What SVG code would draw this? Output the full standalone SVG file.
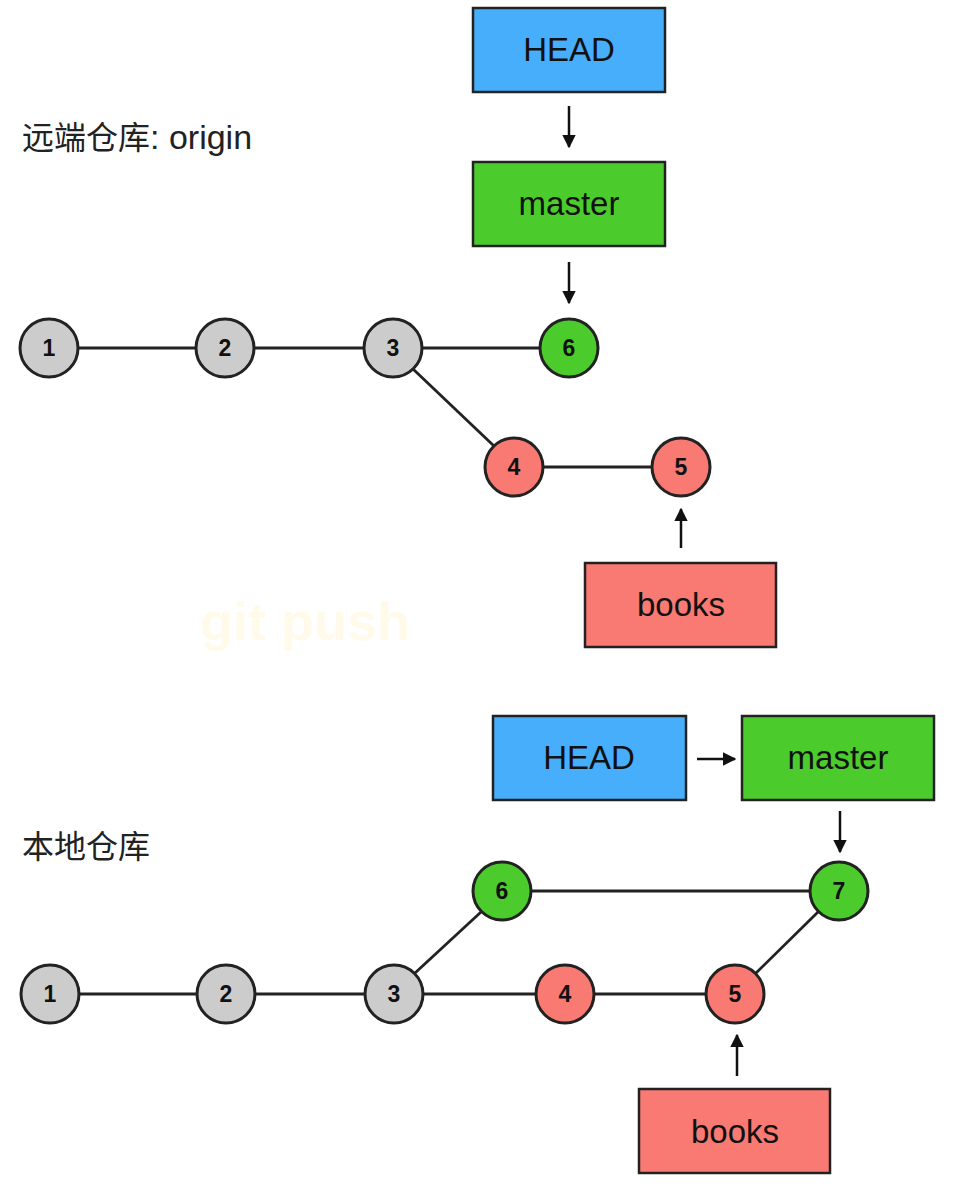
<svg xmlns="http://www.w3.org/2000/svg" width="956" height="1184" viewBox="0 0 956 1184">
<defs>
<marker id="ah" viewBox="0 0 10 10" refX="9" refY="5" markerWidth="5.5" markerHeight="5.5" markerUnits="strokeWidth" orient="auto">
<path d="M0,0 L10,5 L0,10 z" fill="#111"/>
</marker>
</defs>
<style>
.box{stroke:#222;stroke-width:2.5}
.blue{fill:#47aefc}
.green{fill:#4ccc2c}
.red{fill:#f87a72}
.gray{fill:#cccccc}
.lbl{font-family:"Liberation Sans",Arial,sans-serif;font-size:33px;fill:#111;text-anchor:middle}
.num{font-family:"Liberation Sans",Arial,sans-serif;font-size:23px;font-weight:bold;fill:#111;text-anchor:middle}
.c{stroke:#222;stroke-width:3}
.edge{stroke:#222;stroke-width:2.8;fill:none}
.arr{stroke:#111;stroke-width:2.5;fill:none;marker-end:url(#ah)}
.title{font-family:"Liberation Sans","Noto Sans CJK SC",sans-serif;font-size:32px;fill:#222}
</style>
<rect width="956" height="1184" fill="#fff"/>
<text class="title" x="22" y="149">远端仓库<tspan font-size="34">: origin</tspan></text>
<text class="title" x="22" y="858">本地仓库</text>
<text x="200" y="640" font-family="Liberation Sans,Arial,sans-serif" font-size="54" font-weight="bold" fill="#fffaea">git push</text>
<g id="connectors">
<line class="arr" x1="569" y1="106" x2="569" y2="147"/>
<line class="arr" x1="569" y1="262" x2="569" y2="303"/>
<line class="edge" x1="78" y1="348" x2="196" y2="348"/>
<line class="edge" x1="254" y1="348" x2="364" y2="348"/>
<line class="edge" x1="422" y1="348" x2="540" y2="348"/>
<line class="edge" x1="413" y1="369" x2="494" y2="446"/>
<line class="edge" x1="543" y1="467" x2="652" y2="467"/>
<line class="arr" x1="681" y1="548" x2="681" y2="509"/>
<line class="arr" x1="697" y1="759" x2="735" y2="759"/>
<line class="arr" x1="840" y1="811" x2="840" y2="852"/>
<line class="edge" x1="79" y1="994" x2="197" y2="994"/>
<line class="edge" x1="255" y1="994" x2="365" y2="994"/>
<line class="edge" x1="423" y1="994" x2="536" y2="994"/>
<line class="edge" x1="594" y1="994" x2="706" y2="994"/>
<line class="edge" x1="415" y1="973" x2="481" y2="912"/>
<line class="edge" x1="531" y1="891" x2="810" y2="891"/>
<line class="edge" x1="756" y1="973" x2="818" y2="912"/>
<line class="arr" x1="737" y1="1076" x2="737" y2="1035"/>
</g>
<g id="o-head"><rect class="box blue" x="473" y="8" width="192" height="84"/><text class="lbl" x="569" y="61">HEAD</text></g>
<g id="o-master"><rect class="box green" x="473" y="162" width="192" height="84"/><text class="lbl" x="569" y="215">master</text></g>
<g id="o-books"><rect class="box red" x="585" y="563" width="191" height="84"/><text class="lbl" x="681" y="616">books</text></g>
<g id="o-c1"><circle class="c gray" cx="49" cy="348" r="29"/><text class="num" x="49" y="356">1</text></g>
<g id="o-c2"><circle class="c gray" cx="225" cy="348" r="29"/><text class="num" x="225" y="356">2</text></g>
<g id="o-c3"><circle class="c gray" cx="393" cy="348" r="29"/><text class="num" x="393" y="356">3</text></g>
<g id="o-c6"><circle class="c green" cx="569" cy="348" r="29"/><text class="num" x="569" y="356">6</text></g>
<g id="o-c4"><circle class="c red" cx="514" cy="467" r="29"/><text class="num" x="514" y="475">4</text></g>
<g id="o-c5"><circle class="c red" cx="681" cy="467" r="29"/><text class="num" x="681" y="475">5</text></g>
<g id="l-head"><rect class="box blue" x="493" y="716" width="193" height="84"/><text class="lbl" x="589" y="769">HEAD</text></g>
<g id="l-master"><rect class="box green" x="742" y="716" width="192" height="84"/><text class="lbl" x="838" y="769">master</text></g>
<g id="l-books"><rect class="box red" x="639" y="1089" width="191" height="84"/><text class="lbl" x="735" y="1143">books</text></g>
<g id="l-c1"><circle class="c gray" cx="50" cy="994" r="29"/><text class="num" x="50" y="1002">1</text></g>
<g id="l-c2"><circle class="c gray" cx="226" cy="994" r="29"/><text class="num" x="226" y="1002">2</text></g>
<g id="l-c3"><circle class="c gray" cx="394" cy="994" r="29"/><text class="num" x="394" y="1002">3</text></g>
<g id="l-c4"><circle class="c red" cx="565" cy="994" r="29"/><text class="num" x="565" y="1002">4</text></g>
<g id="l-c5"><circle class="c red" cx="735" cy="994" r="29"/><text class="num" x="735" y="1002">5</text></g>
<g id="l-c6"><circle class="c green" cx="502" cy="891" r="29"/><text class="num" x="502" y="899">6</text></g>
<g id="l-c7"><circle class="c green" cx="839" cy="891" r="29"/><text class="num" x="839" y="899">7</text></g>
</svg>
